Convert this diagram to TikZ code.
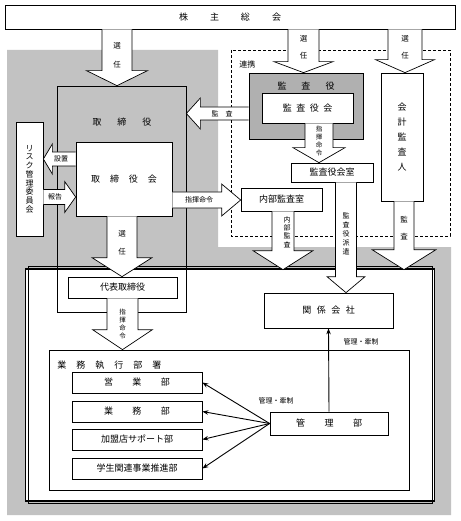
\documentclass[tikz,border=0pt]{standalone}
\usepackage{fontspec}
\newfontfamily\jp{Noto Sans CJK JP}
\usetikzlibrary{calc,arrows.meta}

\definecolor{bggray}{gray}{0.76}
\definecolor{yakugray}{gray}{0.69}

% block arrows: x or y, from, to, stem half, head half, head length
\newcommand\varr[6]{\draw[blk] let \p1=(#2), \p2=(#3) in
  ({#1pt-(#4pt)},\y1) -- ({#1pt-(#4pt)},{\y2+(#6pt)}) -- ({#1pt-(#5pt)},{\y2+(#6pt)}) -- (#1pt,\y2)
  -- ({#1pt+(#5pt)},{\y2+(#6pt)}) -- ({#1pt+(#4pt)},{\y2+(#6pt)}) -- ({#1pt+(#4pt)},\y1);}
\newcommand\harr[6]{\draw[blk] let \p1=(#2), \p2=(#3) in
  (\x1,{-#1pt+(#4pt)}) -- ({\x2-(#6pt)},{-#1pt+(#4pt)}) -- ({\x2-(#6pt)},{-#1pt+(#5pt)}) -- (\x2,-#1pt)
  -- ({\x2-(#6pt)},{-#1pt-(#5pt)}) -- ({\x2-(#6pt)},{-#1pt-(#4pt)}) -- (\x1,{-#1pt-(#4pt)});}

\begin{document}
\begin{tikzpicture}
  [x=1pt,y=-1pt,line width=0.7pt,
   box/.style={draw,fill=white,inner sep=0pt,align=center,font=\jp\fontsize{9}{11}\selectfont},
   frame/.style={draw,inner sep=0pt},
   blk/.style={draw,fill=white,line join=miter},
   lbl/.style={inner sep=0pt,font=\jp\fontsize{9}{11}\selectfont},
   sml/.style={inner sep=0pt,align=center,font=\jp\fontsize{7}{8.5}\selectfont},
   thinarr/.style={line width=0.9pt,-{Stealth[length=6pt,width=4.5pt]}}]
  \useasboundingbox (0,0) rectangle (460,521);

  % background
  \fill[bggray] (7,50) -- (218,50) -- (218,247) -- (451,247) -- (451,515) -- (7,515) -- cycle;
  \draw[line width=0.6pt,dash pattern=on 3pt off 2pt] (231,50) rectangle (450,236);
  \node[fill=white,minimum width=410pt,minimum height=230pt,inner sep=0pt] (waku) at (230,385) {};
  \draw[line width=1.4pt] ([shift={(0.7,0.7)}]waku.south west) rectangle ([shift={(-0.7,-0.7)}]waku.north east);
  \draw[line width=0.6pt] ([shift={(3.2,3.2)}]waku.south west) rectangle ([shift={(-3.2,-3.2)}]waku.north east);

  % boxes
  \node[box,minimum width=450pt,minimum height=24pt] (smt) at (230,17) {株\hspace{22pt}主\hspace{22pt}総\hspace{22pt}会};
  \node[box,minimum width=27pt,minimum height=114pt,font=\jp\fontsize{8}{8.7}\selectfont] (risk) at (29.5,179) {リ\\ス\\ク\\管\\理\\委\\員\\会};
  \node[box,minimum width=96pt,minimum height=74pt] (torikai) at (124,179) {取\hspace{10pt}締\hspace{10pt}役\hspace{10pt}会};
  \node[box,minimum width=109pt,minimum height=21pt] (daihyo) at (122.5,287.5) {代表取締役};
  \node[box,fill=yakugray,minimum width=114pt,minimum height=66pt] (kansayaku) at (306,106) {};
  \node[box,minimum width=91pt,minimum height=30pt] (kansayakukai) at (307.5,108) {監\hspace{4.5pt}査\hspace{4.5pt}役\hspace{4.5pt}会};
  \node[box,minimum width=42pt,minimum height=128pt,font=\jp\fontsize{9}{15}\selectfont] (kaikei) at (402,137) {会\\計\\監\\査\\人};
  \node[box,minimum width=82pt,minimum height=19pt] (shitsu) at (332,172.5) {監査役会室};
  \node[box,minimum width=81pt,minimum height=23pt] (naibu) at (281.5,199.5) {内部監査室};
  \node[box,minimum width=129pt,minimum height=35pt] (kankei) at (328.5,310.5) {関\hspace{5.5pt}係\hspace{5.5pt}会\hspace{5.5pt}社};
  \node[box,minimum width=360pt,minimum height=140pt] (gyomu) at (229,420) {};
  \foreach \nm/\y/\txt in {eigyo/382.5/{営\hspace{19.5pt}業\hspace{19.5pt}部},
      gyomubu/411.5/{業\hspace{19.5pt}務\hspace{19.5pt}部},
      kamei/439.5/{加盟店サポート部},
      gakusei/468.5/{学生関連事業推進部}}
    \node[box,minimum width=130pt,minimum height=21pt] (\nm) at (137,\y) {\txt};
  \node[box,minimum width=118pt,minimum height=23pt] (kanri) at (329,423.5) {管\hspace{19.5pt}理\hspace{19.5pt}部};
  \node[frame,minimum width=129pt,minimum height=226pt] (tori) at (121.5,199) {};

  % block arrows
  \varr{117}{smt.south}{tori.north}{15}{30.5}{15}
  \varr{303.5}{smt.south}{kansayaku.north}{15.5}{29.5}{11}
  \varr{405}{smt.south}{kaikei.north}{17}{29.5}{13}
  \varr{319}{kansayakukai.south}{shitsu.north}{14}{26}{15}
  \varr{346}{shitsu.south}{kankei.north}{10.5}{19}{16}
  \varr{283}{naibu.south}{waku.north}{11}{30}{19}
  \varr{404}{kaikei.south}{waku.north}{10}{32}{20}
  \varr{122}{torikai.south}{daihyo.north}{15}{30}{19}
  \varr{122.5}{daihyo.south}{gyomu.north}{15.5}{30}{20}
  \harr{113.5}{kansayaku.west}{tori.east}{6.5}{15.5}{-14}
  \harr{159}{torikai.west}{risk.east}{7}{15}{-9}
  \harr{197}{risk.east}{torikai.west}{7.5}{15.5}{11}
  \harr{200}{torikai.east}{naibu.west}{8}{16}{19}

  % thin arrows
  \foreach \to in {eigyo,gyomubu,kamei,gakusei}
    \draw[thinarr] (kanri.west) -- (\to.east);
  \draw[thinarr] (kanri.north) -- (kankei.south);

  % labels
  \node[lbl] (ltori) at (122,122) {取\hspace{16pt}締\hspace{16pt}役};
  \node[lbl] (lyaku) at (306,86) {監\hspace{15pt}査\hspace{15pt}役};
  \node[lbl,anchor=west] (lgyomu) at (57,365) {業\hspace{10pt}務\hspace{10pt}執\hspace{10pt}行\hspace{10pt}部\hspace{10pt}署};
  \node[sml,font=\jp\fontsize{8}{9}\selectfont,anchor=west] (renkei) at (239,64) {連携};
  \node[sml,font=\jp\fontsize{7.5}{9}\selectfont] (sen1) at (117,55) {選\\[10pt]任};
  \node[sml,font=\jp\fontsize{7.5}{9}\selectfont] (sen2) at (303.5,47) {選\\[8pt]任};
  \node[sml,font=\jp\fontsize{7.5}{9}\selectfont] (sen3) at (405,47) {選\\[8pt]任};
  \node[sml,font=\jp\fontsize{7.5}{9}\selectfont] (sen4) at (122,243) {選\\[9pt]任};
  \node[sml] (setchi) at (61,159) {設置};
  \node[sml] (hokoku) at (55,197) {報告};
  \node[sml] (shiki1) at (199,200) {指揮命令};
  \node[sml] (kansa1) at (222,113.5) {監\hspace{7pt}査};
  \node[sml,font=\jp\fontsize{6.5}{8.3}\selectfont] (shiki2) at (319,141) {指\\揮\\命\\令};
  \node[sml,font=\jp\fontsize{6.5}{8.3}\selectfont] (shiki3) at (122.5,324) {指\\揮\\命\\令};
  \node[sml,font=\jp\fontsize{7}{8.2}\selectfont] (lnaibu) at (287,232) {内\\部\\監\\査};
  \node[sml,font=\jp\fontsize{7}{9}\selectfont] (haken) at (346,234) {監\\査\\役\\派\\遣};
  \node[sml,font=\jp\fontsize{7.5}{9}\selectfont] (kansa2) at (404,228.5) {監\\[8pt]査};
  \node[sml] (kanri1) at (361,342) {管理・牽制};
  \node[sml] (kanri2) at (276,401) {管理・牽制};
\end{tikzpicture}
\end{document}
